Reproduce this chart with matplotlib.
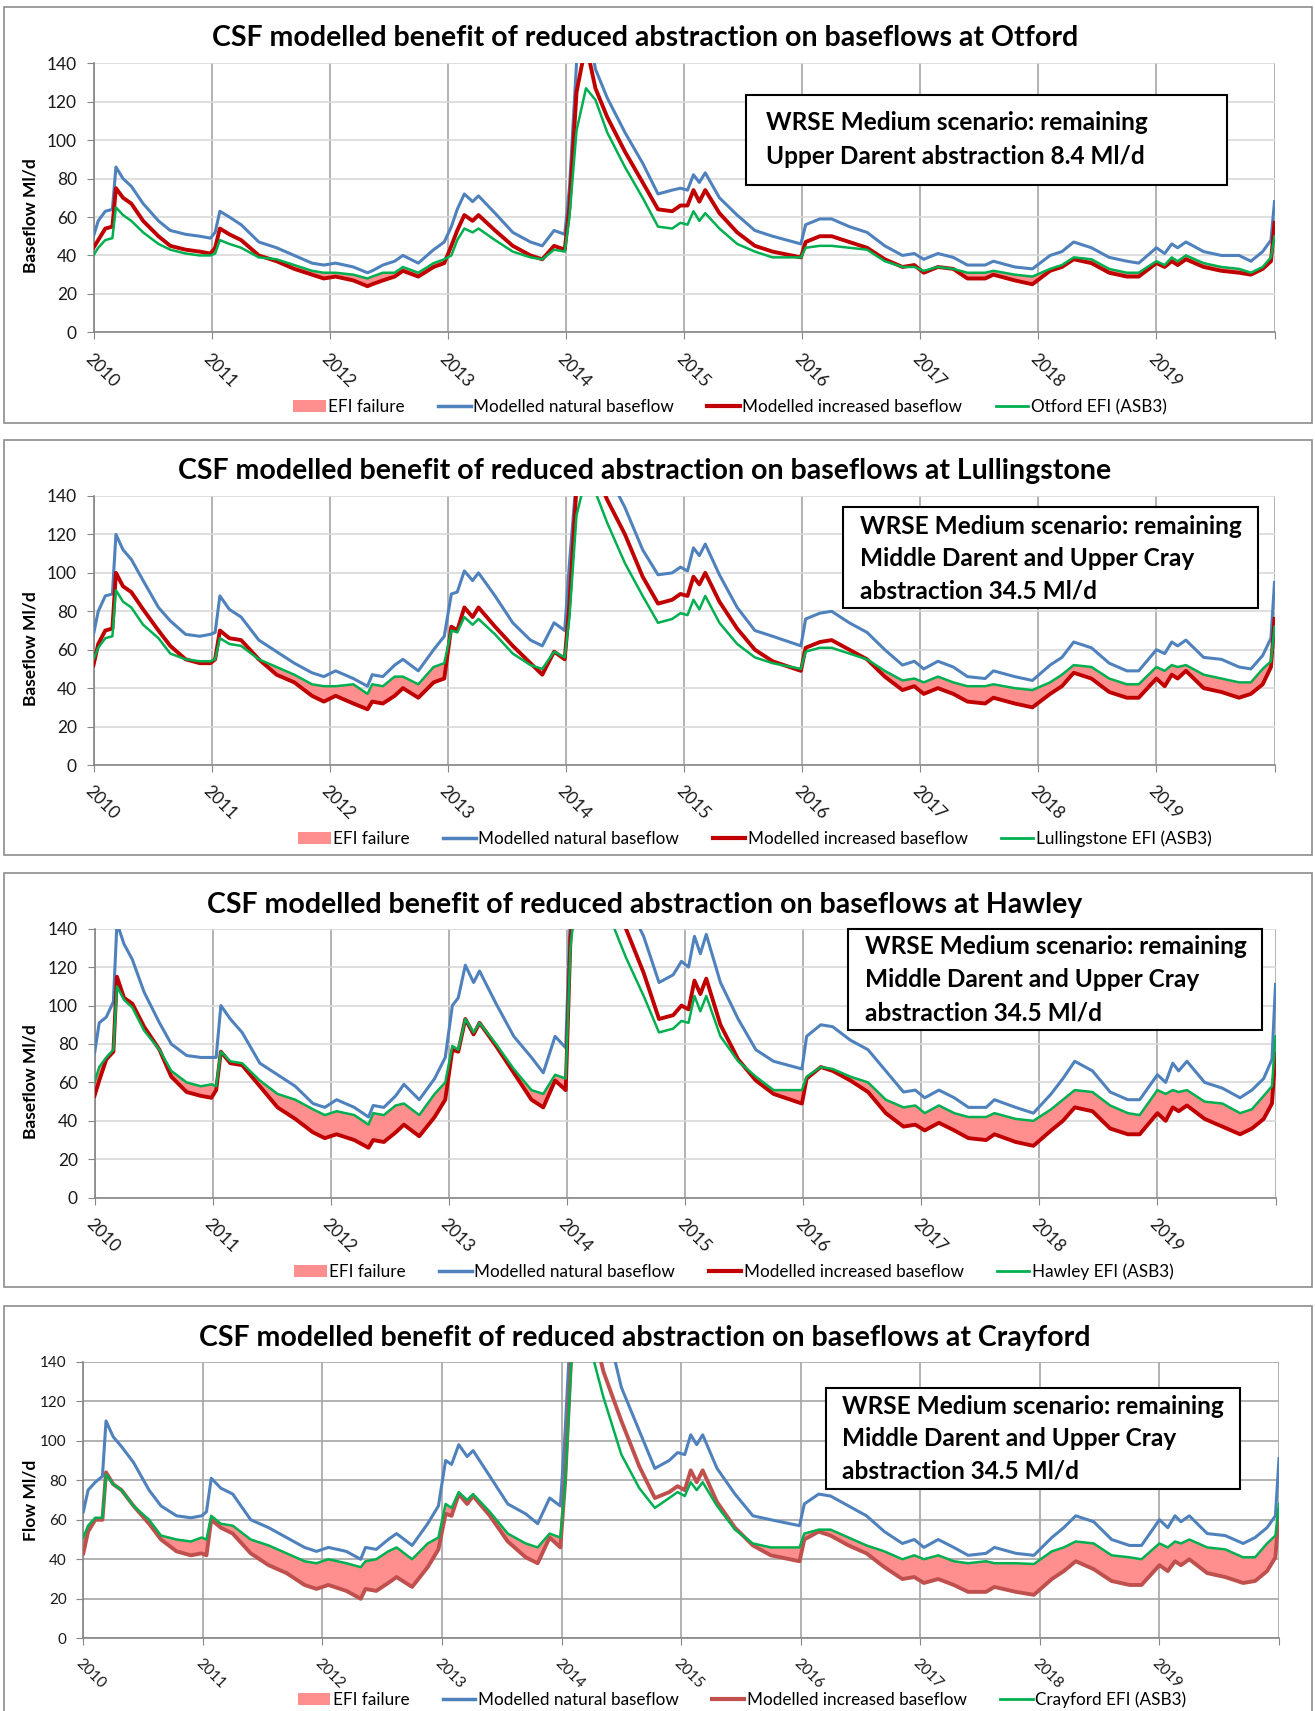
import matplotlib
matplotlib.use('Agg')
import matplotlib.pyplot as plt
from matplotlib.patches import Rectangle, Patch
from matplotlib.lines import Line2D

plt.rcParams['font.family'] = ['Lato', 'DejaVu Sans']

# time axis (decimal years) shared by all four sites
years = [2010.00, 2010.04, 2010.10, 2010.16, 2010.19, 2010.25, 2010.32, 2010.42, 2010.55, 2010.65,
         2010.78, 2010.90, 2010.99, 2011.03, 2011.07, 2011.15, 2011.25, 2011.40, 2011.55, 2011.70,
         2011.85, 2011.95, 2012.05, 2012.20, 2012.32, 2012.36, 2012.45, 2012.55, 2012.62, 2012.75,
         2012.88, 2012.97, 2013.03, 2013.08, 2013.14, 2013.21, 2013.26, 2013.40, 2013.55, 2013.70,
         2013.80, 2013.90, 2013.99, 2014.03, 2014.09, 2014.17, 2014.25, 2014.35, 2014.50, 2014.65,
         2014.78, 2014.90, 2014.97, 2015.03, 2015.08, 2015.13, 2015.18, 2015.30, 2015.45, 2015.60,
         2015.75, 2015.99, 2016.03, 2016.15, 2016.25, 2016.40, 2016.55, 2016.70, 2016.85, 2016.95,
         2017.03, 2017.15, 2017.28, 2017.40, 2017.55, 2017.62, 2017.80, 2017.95, 2018.10, 2018.20,
         2018.30, 2018.45, 2018.60, 2018.75, 2018.85, 2019.00, 2019.07, 2019.13, 2019.18, 2019.25,
         2019.40, 2019.55, 2019.70, 2019.80, 2019.90, 2019.97, 2020.00]

# Otford
otford_natural = [50, 58, 63, 64, 86, 80, 76, 67, 58, 53, 51, 50, 49,
                  52, 63, 60, 56, 47, 44, 40, 36, 35, 36, 34, 31, 32, 35, 37, 40, 36, 43, 47,
                  55, 64, 72, 68, 71, 62, 52, 47, 45, 53, 51,
                  75, 140, 165, 137, 122, 104, 88, 72, 74, 75, 74, 82, 78, 83, 70, 61, 53, 50, 46,
                  56, 59, 59, 55, 52, 45, 40, 41, 38, 41, 39, 35, 35, 37, 34, 33,
                  40, 42, 47, 44, 39, 37, 36, 44, 41, 46, 44, 47, 42, 40, 40, 37, 42, 48, 68]
otford_increased = [44, 48, 54, 55, 75, 70, 67, 58, 50, 45, 43, 42, 41,
                    44, 54, 51, 48, 40, 37, 33, 30, 28, 29, 27, 24, 25, 27, 29, 32, 29, 34, 36,
                    45, 53, 61, 58, 61, 53, 45, 40, 38, 45, 43,
                    65, 125, 150, 127, 112, 94, 78, 64, 63, 66, 66, 74, 68, 74, 62, 52, 45, 42, 39,
                    47, 50, 50, 47, 44, 38, 34, 35, 31, 34, 33, 28, 28, 30, 27, 25,
                    32, 34, 38, 36, 31, 29, 29, 36, 34, 37, 35, 38, 34, 32, 31, 30, 33, 37, 57]
otford_efi = [40, 44, 48, 49, 65, 61, 58, 52, 46, 43, 41, 40, 40,
              41, 48, 46, 44, 39, 38, 35, 32, 31, 31, 30, 28, 29, 31, 31, 34, 31, 36, 38,
              40, 48, 54, 52, 54, 48, 42, 39, 38, 43, 42,
              60, 105, 127, 121, 104, 86, 70, 55, 54, 57, 56, 63, 58, 62, 54, 46, 42, 39, 39,
              44, 45, 45, 44, 43, 37, 34, 34, 32, 34, 33, 31, 31, 32, 30, 29,
              33, 35, 39, 38, 33, 31, 31, 37, 35, 39, 37, 40, 36, 34, 33, 31, 34, 39, 50]

# Lullingstone
lull_natural = [68, 80, 88, 89, 120, 112, 107, 96, 82, 75, 68, 67, 68,
                69, 88, 81, 77, 65, 59, 53, 48, 46, 49, 45, 41, 47, 46, 52, 55, 49, 60, 67,
                89, 90, 101, 96, 100, 88, 74, 65, 62, 74, 70,
                105, 150, 175, 165, 152, 134, 112, 99, 100, 103, 101, 113, 109, 115, 99, 82, 70, 67, 62,
                76, 79, 80, 74, 69, 60, 52, 54, 50, 54, 51, 46, 45, 49, 46, 44,
                52, 56, 64, 61, 53, 49, 49, 60, 58, 64, 62, 65, 56, 55, 51, 50, 57, 66, 95]
lull_increased = [52, 63, 70, 71, 100, 93, 90, 81, 70, 62, 55, 53, 53,
                  55, 70, 66, 65, 55, 47, 43, 36, 33, 36, 32, 29, 33, 32, 36, 40, 35, 43, 45,
                  72, 70, 82, 77, 82, 72, 62, 53, 47, 59, 55,
                  84, 145, 165, 152, 138, 120, 98, 84, 86, 89, 88, 98, 94, 100, 85, 71, 60, 54, 49,
                  61, 64, 65, 60, 55, 46, 39, 41, 37, 40, 37, 33, 32, 35, 32, 30,
                  37, 41, 48, 45, 38, 35, 35, 45, 41, 47, 45, 49, 40, 38, 35, 37, 42, 51, 76]
lull_efi = [55, 61, 66, 67, 91, 85, 82, 73, 66, 58, 55, 54, 54,
            55, 66, 63, 62, 55, 51, 47, 42, 41, 41, 42, 37, 42, 41, 46, 46, 42, 51, 53,
            70, 69, 77, 73, 76, 68, 58, 52, 50, 59, 56,
            77, 130, 150, 142, 126, 105, 88, 74, 76, 79, 78, 86, 81, 88, 74, 63, 56, 53, 50,
            59, 61, 61, 58, 55, 49, 44, 45, 43, 46, 43, 41, 41, 42, 40, 39,
            43, 47, 52, 51, 45, 42, 42, 51, 49, 52, 51, 52, 47, 45, 43, 43, 50, 54, 72]

# Hawley
hawley_natural = [75, 91, 94, 102, 143, 132, 124, 107, 91, 80, 74, 73, 73,
                  73, 100, 93, 86, 70, 64, 58, 49, 47, 51, 47, 42, 48, 47, 53, 59, 51, 62, 73,
                  100, 104, 121, 112, 118, 101, 84, 73, 65, 84, 78,
                  150, 185, 200, 190, 175, 155, 136, 112, 116, 123, 120, 136, 127, 137, 112, 93, 77, 71, 67,
                  84, 90, 89, 82, 77, 66, 55, 56, 52, 56, 52, 47, 47, 51, 47, 44,
                  54, 62, 71, 66, 55, 51, 51, 64, 60, 70, 66, 71, 60, 57, 52, 56, 62, 72, 111]
hawley_increased = [53, 61, 72, 76, 115, 104, 101, 89, 77, 63, 55, 53, 52,
                    56, 76, 70, 69, 58, 47, 41, 34, 31, 33, 30, 26, 30, 29, 34, 38, 32, 42, 51,
                    77, 76, 93, 85, 91, 79, 65, 51, 47, 61, 56,
                    135, 170, 185, 175, 160, 140, 117, 93, 95, 100, 98, 113, 106, 114, 90, 72, 61, 54, 49,
                    62, 68, 66, 61, 55, 44, 37, 38, 35, 39, 35, 31, 30, 33, 29, 27,
                    35, 40, 47, 45, 36, 33, 33, 44, 40, 47, 45, 48, 41, 37, 33, 36, 41, 49, 75]
hawley_efi = [60, 68, 73, 77, 110, 103, 99, 87, 77, 66, 60, 58, 59,
              58, 76, 71, 70, 61, 54, 51, 46, 43, 45, 43, 38, 44, 43, 48, 49, 43, 54, 60,
              79, 77, 93, 86, 91, 80, 67, 56, 54, 64, 62,
              130, 165, 180, 165, 148, 125, 105, 86, 88, 92, 91, 105, 97, 105, 84, 71, 63, 56, 56,
              63, 68, 67, 63, 60, 51, 47, 48, 44, 48, 44, 42, 42, 44, 41, 40,
              46, 51, 56, 55, 48, 44, 43, 56, 54, 56, 55, 56, 50, 49, 44, 46, 53, 58, 84]

# Crayford
cray_natural = [64, 75, 79, 82, 110, 102, 97, 89, 75, 67, 62, 61, 62,
                64, 81, 76, 73, 60, 56, 51, 46, 44, 46, 44, 40, 46, 45, 50, 53, 47, 58, 67,
                90, 88, 98, 92, 95, 82, 68, 63, 58, 71, 67,
                105, 175, 190, 180, 165, 127, 105, 86, 90, 94, 93, 103, 98, 103, 86, 73, 62, 60, 57,
                68, 73, 72, 67, 62, 54, 48, 50, 46, 50, 46, 42, 43, 46, 43, 42,
                51, 56, 62, 59, 50, 47, 47, 60, 56, 62, 59, 62, 53, 52, 48, 51, 56, 62, 91]
cray_increased = [43, 54, 60, 60, 84, 78, 75, 67, 58, 50, 44, 42, 43,
                  42, 60, 56, 53, 43, 37, 33, 27, 25, 27, 24, 20, 25, 24, 28, 31, 26, 36, 45,
                  63, 62, 73, 68, 72, 62, 49, 41, 38, 51, 46,
                  80, 155, 175, 160, 135, 110, 87, 71, 74, 77, 75, 85, 79, 85, 69, 56, 47, 42, 39,
                  50, 54, 52, 47, 43, 36, 30, 31, 28, 30, 27, 23.5, 23.5, 26, 23.5, 22,
                  30, 34, 39, 35, 29, 27, 27, 37, 34, 39, 37, 40, 33, 31, 28, 29, 34, 41, 65]
cray_efi = [51, 57, 61, 61, 83, 78, 75, 67, 60, 52, 50, 49, 51,
            50, 62, 58, 57, 50, 47, 43, 39, 38, 40, 38, 36, 39, 40, 44, 46, 40, 48, 51,
            68, 66, 74, 70, 73, 64, 53, 48, 46, 53, 51,
            78, 150, 165, 145, 122, 93, 76, 66, 71, 74, 72, 79, 75, 79, 67, 55, 48, 46, 46,
            53, 55, 55, 51, 47, 44, 40, 42, 40, 42, 39, 38, 39, 38, 38, 37.6,
            44, 46, 49, 48, 42, 41, 40, 48, 46, 49, 48, 50, 46, 45, 41, 41, 48, 52, 68]

sites = ['Otford', 'Lullingstone', 'Hawley', 'Crayford']
year_ticks = list(range(2010, 2021))
year_labels = [str(y) for y in range(2010, 2020)] + ['']
note_p1 = ['WRSE Medium scenario: remaining', 'Upper Darent abstraction 8.4 Ml/d']
note_other = ['WRSE Medium scenario: remaining', 'Middle Darent and Upper Cray', 'abstraction 34.5 Ml/d']

BLUE = '#4F81BD'
GREEN = '#00B050'
PINK = '#FF8F8F'

W, H = 1315, 1711


def fx(x):
    return x / W


def fy(y):
    return 1 - y / H


fig = plt.figure(figsize=(W / 100, H / 100), dpi=100)

# layout of each panel, in pixels
panels = [
    dict(site='Otford', nat=otford_natural, inc=otford_increased, efi=otford_efi, red='#C00000',
         frame=(7, 423), plot=(93.5, 1274.5, 63.3, 332.3), title_y=38, ylabel='Baseflow Ml/d',
         note=note_p1, box=(745.5, 1226.5, 95, 185), note_x=766, note_y=[123, 156],
         leg=(730, 407), hgrid='#D9D9D9', tick_fs=12.5),
    dict(site='Lullingstone', nat=lull_natural, inc=lull_increased, efi=lull_efi, red='#C00000',
         frame=(440, 855), plot=(93.5, 1274.5, 496, 765), title_y=471, ylabel='Baseflow Ml/d',
         note=note_other, box=(843, 1258, 507, 608), note_x=860, note_y=[526, 558, 591],
         leg=(755, 839), hgrid='#D9D9D9', tick_fs=12.5),
    dict(site='Hawley', nat=hawley_natural, inc=hawley_increased, efi=hawley_efi, red='#C00000',
         frame=(873, 1287), plot=(94.5, 1275.5, 928.7, 1197.7), title_y=905, ylabel='Baseflow Ml/d',
         note=note_other, box=(848, 1262, 929, 1030), note_x=865, note_y=[947, 980, 1013],
         leg=(734, 1272), hgrid='#D9D9D9', tick_fs=12.5),
    dict(site='Crayford', nat=cray_natural, inc=cray_increased, efi=cray_efi, red='#C0504D',
         frame=(1306, 1730), plot=(83.3, 1279, 1361.7, 1638.3), title_y=1338, ylabel='Flow Ml/d',
         note=note_other, box=(825.5, 1240, 1388, 1489), note_x=842, note_y=[1407, 1439, 1471],
         leg=(742, 1700), hgrid='#A6A6A6', tick_fs=11),
]

for p in panels:
    # outer chart frame
    top, bot = p['frame']
    fig.add_artist(Rectangle((fx(4), fy(bot)), (1312 - 4) / W, (bot - top) / H,
                             transform=fig.transFigure, facecolor='none',
                             edgecolor='#8C8C8C', lw=1.2, zorder=-1))

    x0, x1, y0, y1 = p['plot']
    ax = fig.add_axes([fx(x0), fy(y1), (x1 - x0) / W, (y1 - y0) / H])
    ax.set_xlim(2010, 2020)
    ax.set_ylim(0, 140)

    fail = [e > i for e, i in zip(p['efi'], p['inc'])]
    ax.fill_between(years, p['inc'], p['efi'], where=fail, interpolate=True,
                    color=PINK, lw=0, zorder=2)
    ax.plot(years, p['nat'], color=BLUE, lw=2.2, zorder=3)
    ax.plot(years, p['inc'], color=p['red'], lw=2.8, zorder=4)
    ax.plot(years, p['efi'], color=GREEN, lw=1.8, zorder=5)

    ax.set_yticks(range(0, 141, 20))
    ax.set_xticks(year_ticks)
    ax.set_xticklabels(year_labels, rotation=-45, ha='left', va='top', rotation_mode='anchor')
    ax.tick_params(axis='both', direction='out', length=5, color='#868686',
                   labelsize=p['tick_fs'], labelcolor='#1A1A1A')
    ax.tick_params(axis='x', pad=8)
    ax.tick_params(axis='y', pad=7)

    ax.yaxis.grid(True, color=p['hgrid'], lw=1.2)
    ax.xaxis.grid(True, color='#A6A6A6', lw=1.2)
    ax.set_axisbelow(True)
    for side in ['top', 'right']:
        ax.spines[side].set_visible(False)
    for side in ['left', 'bottom']:
        ax.spines[side].set_color('#868686')
        ax.spines[side].set_linewidth(1.2)

    fig.text(fx(645), fy(p['title_y']),
             f"CSF modelled benefit of reduced abstraction on baseflows at {p['site']}",
             ha='center', va='center', fontsize=20.5, fontweight='bold')

    ymid = (y0 + y1) / 2 + (0 if p['site'] == 'Crayford' else 18)
    fig.text(fx(31), fy(ymid), p['ylabel'], rotation=90, ha='center', va='center',
             fontsize=12.5, fontweight='bold')

    # scenario note box
    bx0, bx1, by0, by1 = p['box']
    fig.add_artist(Rectangle((fx(bx0), fy(by1)), (bx1 - bx0) / W, (by1 - by0) / H,
                             transform=fig.transFigure, facecolor='white',
                             edgecolor='black', lw=1.5, zorder=10))
    for line, ly in zip(p['note'], p['note_y']):
        fig.text(fx(p['note_x']), fy(ly), line, ha='left', va='center',
                 fontsize=17.6, fontweight='bold', zorder=11)

    handles = [Patch(facecolor=PINK, edgecolor='none'),
               Line2D([], [], color=BLUE, lw=2.5),
               Line2D([], [], color=p['red'], lw=3),
               Line2D([], [], color=GREEN, lw=2)]
    labels = ['EFI failure', 'Modelled natural baseflow', 'Modelled increased baseflow',
              f"{p['site']} EFI (ASB3)"]
    fig.legend(handles, labels, loc='center', bbox_to_anchor=(fx(p['leg'][0]), fy(p['leg'][1])),
               ncol=4, frameon=False, fontsize=12.3, handlelength=1.9, handletextpad=0.15,
               columnspacing=1.95, borderpad=0, borderaxespad=0)

fig.savefig('out.png', dpi=100)
